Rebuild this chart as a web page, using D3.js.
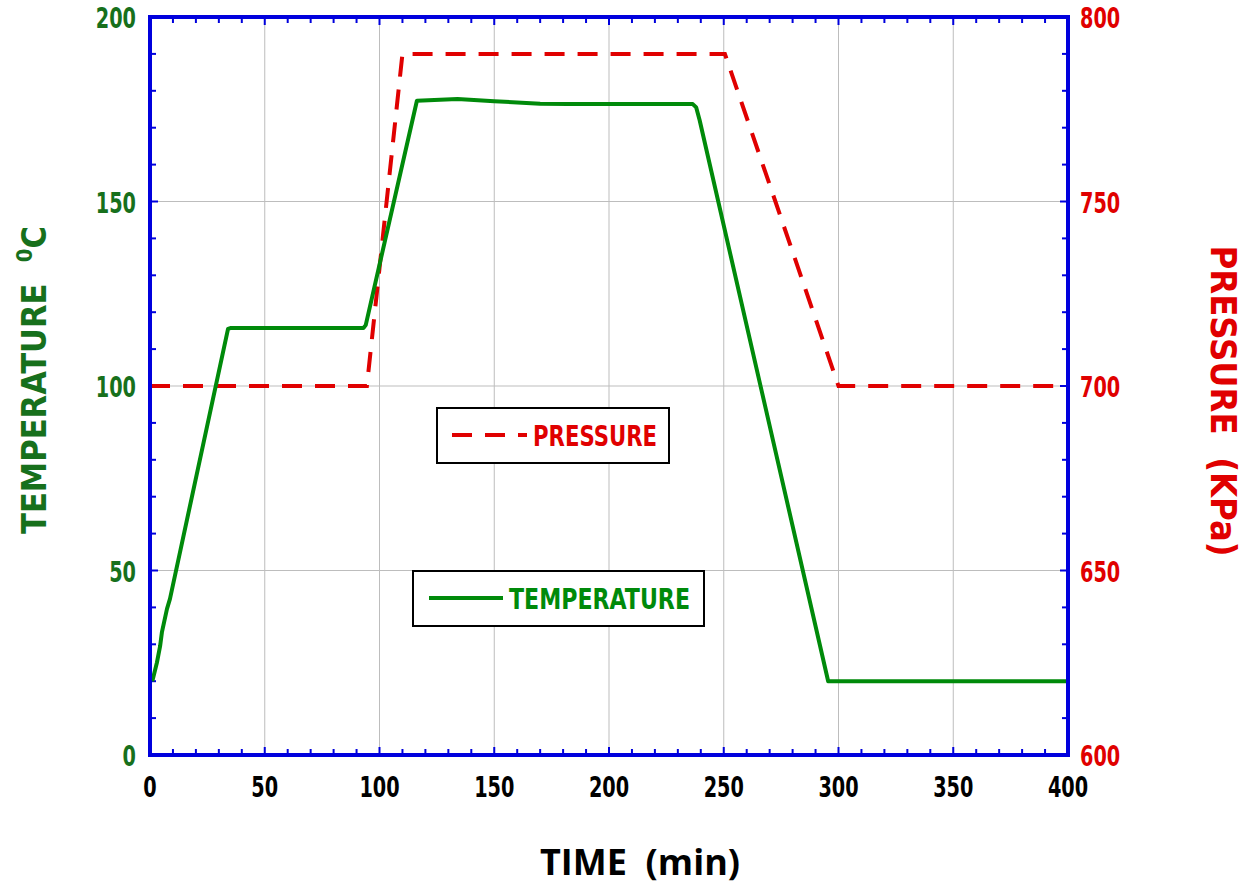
<!DOCTYPE html>
<html>
<head>
<meta charset="utf-8">
<title>Temperature and pressure</title>
<script src="https://d3js.org/d3.v7.min.js"></script>
<style>
  body { margin: 0; background: #fff; }
  text { font-family: "DejaVu Sans Condensed", "DejaVu Sans", sans-serif; font-weight: bold; }
</style>
</head>
<body>
<script>
// temperature curve (deg C vs minutes)
var timeT = [1, 3, 4.4, 5.2, 7.4, 8.7, 34, 35, 93, 94, 116.3, 134, 150, 170, 182, 236.5, 238, 239.5, 295.5, 400];
var tempT = [20, 25, 29.5, 33.3, 39.6, 42.3, 115.5, 115.7, 115.7, 116.5, 177.3, 177.8, 177.2, 176.5, 176.4, 176.4, 175.5, 172, 20, 20];
// pressure curve (kPa vs minutes)
var timeP = [0, 94.5, 110, 250.5, 300, 400];
var presP = [700, 700, 790, 790, 700, 700];

var xTicks = [0, 50, 100, 150, 200, 250, 300, 350, 400];
var yTicks = [0, 50, 100, 150, 200];
var y2Ticks = [600, 650, 700, 750, 800];

var W = 1252, H = 888;
var m = {left: 150, top: 17, right: 1068, bottom: 755};

var blue = "#0000dd", green = "#008a0a", dkgreen = "#17701c", red = "#e00000";

var svg = d3.select("body").append("svg")
    .attr("width", W)
    .attr("height", H);

var x = d3.scaleLinear().domain([0, 400]).range([m.left, m.right]);
var y = d3.scaleLinear().domain([0, 200]).range([m.bottom, m.top]);
var y2 = d3.scaleLinear().domain([600, 800]).range([m.bottom, m.top]);

// grid
svg.append("g").selectAll("line")
    .data(xTicks.slice(1, -1))
    .join("line")
    .attr("x1", d => x(d)).attr("x2", d => x(d))
    .attr("y1", m.top).attr("y2", m.bottom)
    .attr("stroke", "#bdbdbd").attr("stroke-width", 1);
svg.append("g").selectAll("line")
    .data(yTicks.slice(1, -1))
    .join("line")
    .attr("y1", d => y(d)).attr("y2", d => y(d))
    .attr("x1", m.left).attr("x2", m.right)
    .attr("stroke", "#bdbdbd").attr("stroke-width", 1);

// minor + major tick marks on all four sides (pointing inside)
var minorX = d3.range(0, 401, 10);
var minorY = d3.range(0, 201, 10);
var ticks = svg.append("g").attr("stroke", blue).attr("stroke-width", 2);
minorX.forEach(function (t) {
    var len = t % 50 === 0 ? 8 : 6;
    ticks.append("line").attr("x1", x(t)).attr("x2", x(t)).attr("y1", m.bottom).attr("y2", m.bottom - len);
    ticks.append("line").attr("x1", x(t)).attr("x2", x(t)).attr("y1", m.top).attr("y2", m.top + len);
});
minorY.forEach(function (t) {
    var len = t % 50 === 0 ? 8 : 6;
    ticks.append("line").attr("y1", y(t)).attr("y2", y(t)).attr("x1", m.left).attr("x2", m.left + len);
    ticks.append("line").attr("y1", y(t)).attr("y2", y(t)).attr("x1", m.right).attr("x2", m.right - len);
});

// lines
svg.append("clipPath").attr("id", "clip")
    .append("rect").attr("x", m.left).attr("y", m.top)
    .attr("width", m.right - m.left).attr("height", m.bottom - m.top);

var lineT = d3.line().x(d => x(d[0])).y(d => y(d[1]));
var lineP = d3.line().x(d => x(d[0])).y(d => y2(d[1]));

svg.append("path")
    .attr("clip-path", "url(#clip)")
    .attr("d", lineP(d3.zip(timeP, presP)))
    .attr("fill", "none")
    .attr("stroke", red)
    .attr("stroke-width", 4)
    .attr("stroke-dasharray", "20,13");

svg.append("path")
    .attr("clip-path", "url(#clip)")
    .attr("d", lineT(d3.zip(timeT, tempT)))
    .attr("fill", "none")
    .attr("stroke", green)
    .attr("stroke-width", 4)
    .attr("stroke-linejoin", "round");

// frame
svg.append("rect")
    .attr("x", m.left).attr("y", m.top)
    .attr("width", m.right - m.left).attr("height", m.bottom - m.top)
    .attr("fill", "none").attr("stroke", blue).attr("stroke-width", 4);

// tick labels
function squeeze(sel) {
    sel.attr("textLength", d => String(d).length * 13.4)
       .attr("lengthAdjust", "spacingAndGlyphs");
}
svg.append("g").selectAll("text")
    .data(xTicks)
    .join("text")
    .attr("x", d => x(d) - String(d).length * 6.7).attr("y", 797)
    .attr("font-size", 29)
    .attr("fill", "#000")
    .text(d => d)
    .call(squeeze);
svg.append("g").selectAll("text")
    .data(yTicks)
    .join("text")
    .attr("x", d => 136 - String(d).length * 13.4).attr("y", d => y(d) + 11)
    .attr("font-size", 29)
    .attr("fill", dkgreen)
    .text(d => d)
    .call(squeeze);
svg.append("g").selectAll("text")
    .data(y2Ticks)
    .join("text")
    .attr("x", 1080).attr("y", d => y2(d) + 11)
    .attr("font-size", 29)
    .attr("fill", red)
    .text(d => d)
    .call(squeeze);

// axis titles
svg.append("text")
    .attr("x", 640).attr("y", 875)
    .attr("text-anchor", "middle")
    .attr("font-size", 36)
    .style("font-family", "'Open Sans', sans-serif")
    .attr("fill", "#000")
    .attr("xml:space", "preserve")
    .text("TIME  (min)");

var yt = svg.append("text")
    .attr("transform", "translate(46,380) rotate(-90)")
    .attr("text-anchor", "middle")
    .attr("font-size", 34)
    .attr("fill", dkgreen)
    .attr("xml:space", "preserve");
yt.append("tspan").text("TEMPERATURE  ");
yt.append("tspan").attr("font-size", 22).attr("dy", -14).text("0");
yt.append("tspan").attr("dy", 14).text("C");

svg.append("text")
    .attr("transform", "translate(1211,401) rotate(90)")
    .attr("text-anchor", "middle")
    .attr("font-size", 36)
    .attr("fill", red)
    .attr("xml:space", "preserve")
    .text("PRESSURE  (KPa)");

// legends
var lg1 = svg.append("g");
lg1.append("rect").attr("x", 437).attr("y", 408).attr("width", 232).attr("height", 55)
    .attr("fill", "#fff").attr("stroke", "#000").attr("stroke-width", 2);
lg1.append("line").attr("x1", 452).attr("x2", 527).attr("y1", 435).attr("y2", 435)
    .attr("stroke", red).attr("stroke-width", 4).attr("stroke-dasharray", "20,13");
lg1.append("text").attr("x", 533).attr("y", 446).attr("font-size", 28).attr("fill", red)
    .attr("textLength", 124).attr("lengthAdjust", "spacingAndGlyphs")
    .text("PRESSURE");

var lg2 = svg.append("g");
lg2.append("rect").attr("x", 413).attr("y", 571).attr("width", 291).attr("height", 55)
    .attr("fill", "#fff").attr("stroke", "#000").attr("stroke-width", 2);
lg2.append("line").attr("x1", 429).attr("x2", 503).attr("y1", 598).attr("y2", 598)
    .attr("stroke", green).attr("stroke-width", 4);
lg2.append("text").attr("x", 509).attr("y", 609).attr("font-size", 28).attr("fill", green)
    .attr("textLength", 181).attr("lengthAdjust", "spacingAndGlyphs")
    .text("TEMPERATURE");
</script>
</body>
</html>
